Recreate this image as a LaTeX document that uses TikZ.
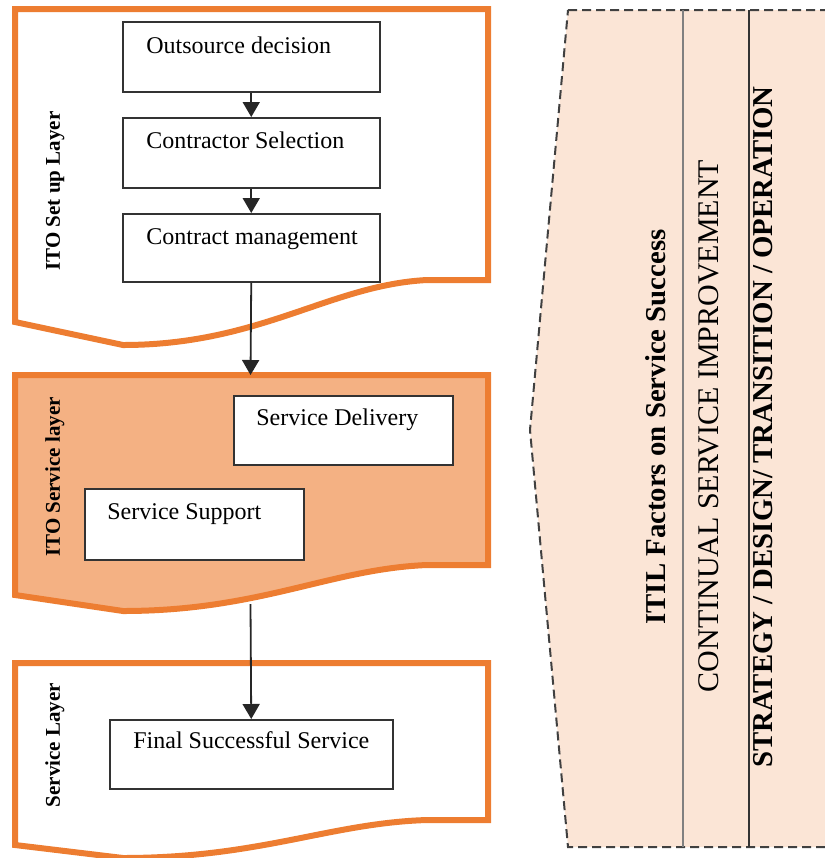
\documentclass[tikz,border=0pt]{standalone}
\usepackage{fontspec}
\setmainfont{Liberation Serif}
\usetikzlibrary{arrows.meta,calc}
\definecolor{orangeline}{HTML}{ED7D31}
\definecolor{layerfill}{HTML}{F4B183}
\definecolor{peach}{HTML}{FBE5D6}
\begin{document}
\begin{tikzpicture}[x=0.5pt,y=-0.5pt,
  layer/.style={draw=orangeline, line width=3pt, line join=miter},
  box/.style={draw=black!80, line width=0.75pt, fill=white, inner sep=0pt, anchor=north west},
  boxtext/.style={anchor=base west, font=\fontsize{12}{14}\selectfont, inner sep=0pt},
  layerlabel/.style={anchor=base, rotate=90, inner sep=0pt, font=\bfseries\fontsize{10.5}{12}\selectfont},
  itillabel/.style={anchor=base, rotate=90, inner sep=0pt},
  flow/.style={line width=0.9pt, draw=black!85, -{Triangle[width=8.5pt,length=7.5pt]}},
  frame/.style={draw=black!75, line width=1pt, dash pattern=on 4.5pt off 2.5pt, fill=peach},
  divider/.style={line width=1pt}
]
\useasboundingbox (0,0) rectangle (825,858);

% right ITIL shape
\path[frame] (568,10) -- (845,10) -- (845,847) -- (568,847) -- (530,430) -- cycle;
\draw[divider, draw=black!50] (683,10) -- (683,847);
\draw[divider, draw=black!80] (749,10) -- (749,847);
\node[itillabel, font=\bfseries\fontsize{14.4}{16}\selectfont] (itil) at (665,427) {ITIL Factors on Service Success};
\node[itillabel, font=\fontsize{15}{17}\selectfont] (csi) at (718,426) {CONTINUAL SERVICE IMPROVEMENT};
\node[itillabel, font=\bfseries\fontsize{14.4}{16}\selectfont] (sdto) at (772,427) {STRATEGY / DESIGN/ TRANSITION / OPERATION};

% layer shapes
\path[layer, fill=white] (15,9) -- (488,9) -- (488,280) -- (427,280)
  .. controls (330,285) and (260,345) .. (123,345) -- (15,322) -- cycle;
\path[layer, fill=layerfill] (15,375) -- (488,375) -- (488,565) -- (427,565)
  .. controls (330,569) and (260,611) .. (123,611) -- (15,595) -- cycle;
\path[layer, fill=white] (15,663) -- (488,663) -- (488,820) -- (427,820)
  .. controls (330,823) and (260,858) .. (123,858) -- (15,845) -- cycle;

\node[layerlabel] (l1) at (60,191) {ITO Set up Layer};
\node[layerlabel] (l2) at (60,477) {ITO Service layer};
\node[layerlabel] (l3) at (60,745) {Service Layer};

\coordinate (l2top) at (250.5,375);
\coordinate (l2bottom) at (250.5,604);

% boxes
\node[box, minimum width=128.5pt, minimum height=35pt] (od) at (122,21) {};
\node[box, minimum width=128.5pt, minimum height=35pt] (cs) at (122,117) {};
\node[box, minimum width=128.5pt, minimum height=34pt] (cm) at (122,213) {};
\node[box, minimum width=109.5pt, minimum height=34.5pt] (sd) at (233,395) {};
\node[box, minimum width=109.5pt, minimum height=35.5pt] (ss) at (84,488) {};
\node[box, minimum width=141.5pt, minimum height=34.5pt] (fs) at (109,719) {};

\node[boxtext] (odt) at (146,53) {Outsource decision};
\node[boxtext] (cst) at (146,148) {Contractor Selection};
\node[boxtext] (cmt) at (146,244) {Contract management};
\node[boxtext] (sdt) at (256,425) {Service Delivery};
\node[boxtext] (sst) at (107,519) {Service Support};
\node[boxtext] (fst) at (133,748) {Final Successful Service};

% connectors
\draw[flow] (od.south) -- (cs.north);
\draw[flow] (cs.south) -- (cm.north);
\draw[flow] (cm.south) -- (l2top);
\draw[flow] (l2bottom) -- (fs.north);
\end{tikzpicture}
\end{document}
